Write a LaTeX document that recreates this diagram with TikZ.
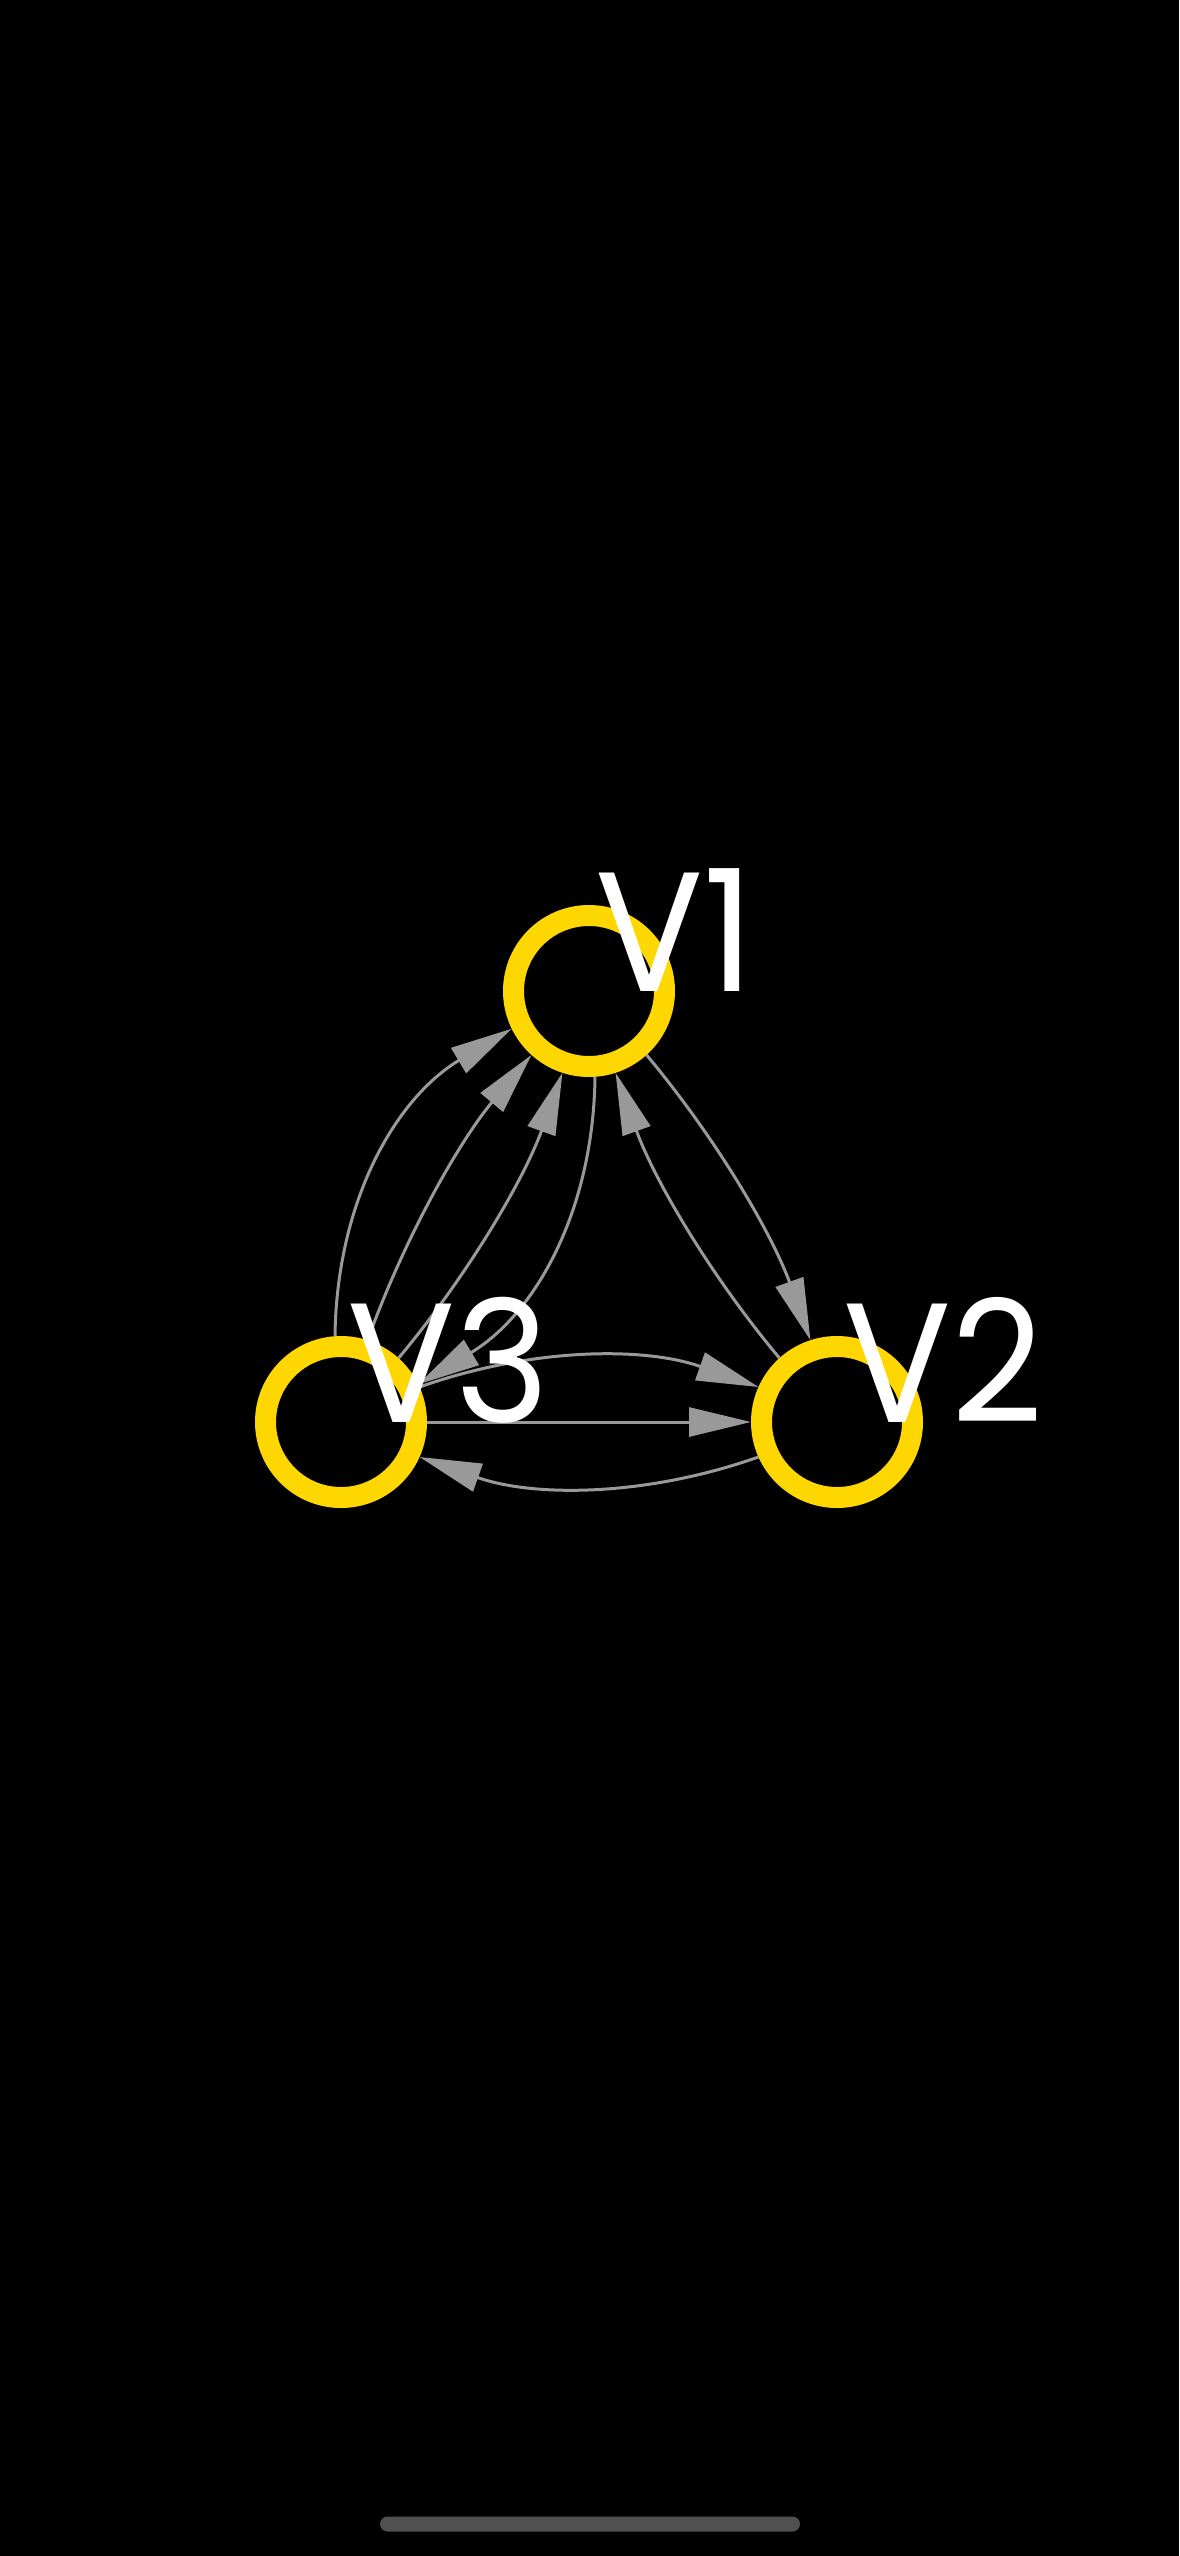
\documentclass[tikz,border=0pt]{standalone}
\usepackage{fontspec}
\newfontfamily\labelfont[FakeStretch=0.94]{Poppins}
\usetikzlibrary{arrows.meta,calc}
\definecolor{ringgold}{RGB}{255,215,0}
\definecolor{edgegray}{RGB}{153,153,153}
\definecolor{bargray}{RGB}{80,80,80}
\begin{document}
\begin{tikzpicture}[x=1pt,y=-1pt,
  vertex/.style={circle,draw=ringgold,line width=21pt,minimum size=151pt,inner sep=0pt,outer sep=10.5pt},
  vlabel/.style={text=white,inner sep=0pt,anchor=base west,font=\labelfont\fontsize{170}{170}\selectfont},
  edge/.style={draw=edgegray,line width=3pt,-{Triangle[length=62pt,width=29pt]}}]
\fill[black] (0,0) rectangle (1179,2556);
\useasboundingbox (0,0) rectangle (1179,2556);
% vertices
\node[vertex] (V1) at (589,991) {};
\node[vertex] (V2) at (837,1422) {};
\node[vertex] (V3) at (341,1422) {};
% edges V3 -- V1
\draw[edge] (V3.94) .. controls ($(V3)!189.47pt!(V1)!114.02pt!90:(V1)$) and ($(V1)!189.47pt!(V3)!114.02pt!-90:(V3)$) .. (V1.206);
\draw[edge] (V3.72) .. controls ($(V3)!193.68pt!(V1)!37.25pt!90:(V1)$) and ($(V1)!193.68pt!(V3)!37.25pt!-90:(V3)$) .. (V1.228);
\draw[edge] (V3.48) .. controls ($(V3)!193.68pt!(V1)!37.25pt!-90:(V1)$) and ($(V1)!193.68pt!(V3)!37.25pt!90:(V3)$) .. (V1.252);
\draw[edge] (V1.274) .. controls ($(V1)!189.47pt!(V3)!114.02pt!90:(V3)$) and ($(V3)!189.47pt!(V1)!114.02pt!-90:(V1)$) .. (V3.26);
% edges V1 -- V2
\draw[edge] (V1.312) .. controls ($(V1)!193.68pt!(V2)!37.25pt!90:(V2)$) and ($(V2)!193.68pt!(V1)!37.25pt!-90:(V1)$) .. (V2.108);
\draw[edge] (V2.132) .. controls ($(V2)!193.68pt!(V1)!37.25pt!90:(V1)$) and ($(V1)!193.68pt!(V2)!37.25pt!-90:(V2)$) .. (V1.288);
% edges V3 -- V2
\draw[edge] (V3.24) .. controls ($(V3)!191.91pt!(V2)!75.11pt!90:(V2)$) and ($(V2)!191.91pt!(V3)!75.11pt!-90:(V3)$) .. (V2.156);
\draw[edge] (V3) -- (V2);
\draw[edge] (V2.204) .. controls ($(V2)!191.91pt!(V3)!75.11pt!90:(V3)$) and ($(V3)!191.91pt!(V2)!75.11pt!-90:(V2)$) .. (V3.336);
% labels
\node[vlabel] (L1) at ($(V1.center)+(6,0)$) {V1};
\node[vlabel] (L2) at ($(V2.center)+(6,0)$) {V2};
\node[vlabel] (L3) at ($(V3.center)+(6,0)$) {V3};
% home indicator
\fill[bargray,rounded corners=7.5pt] (380,2516.5) rectangle (800,2531.5);
\end{tikzpicture}
\end{document}
